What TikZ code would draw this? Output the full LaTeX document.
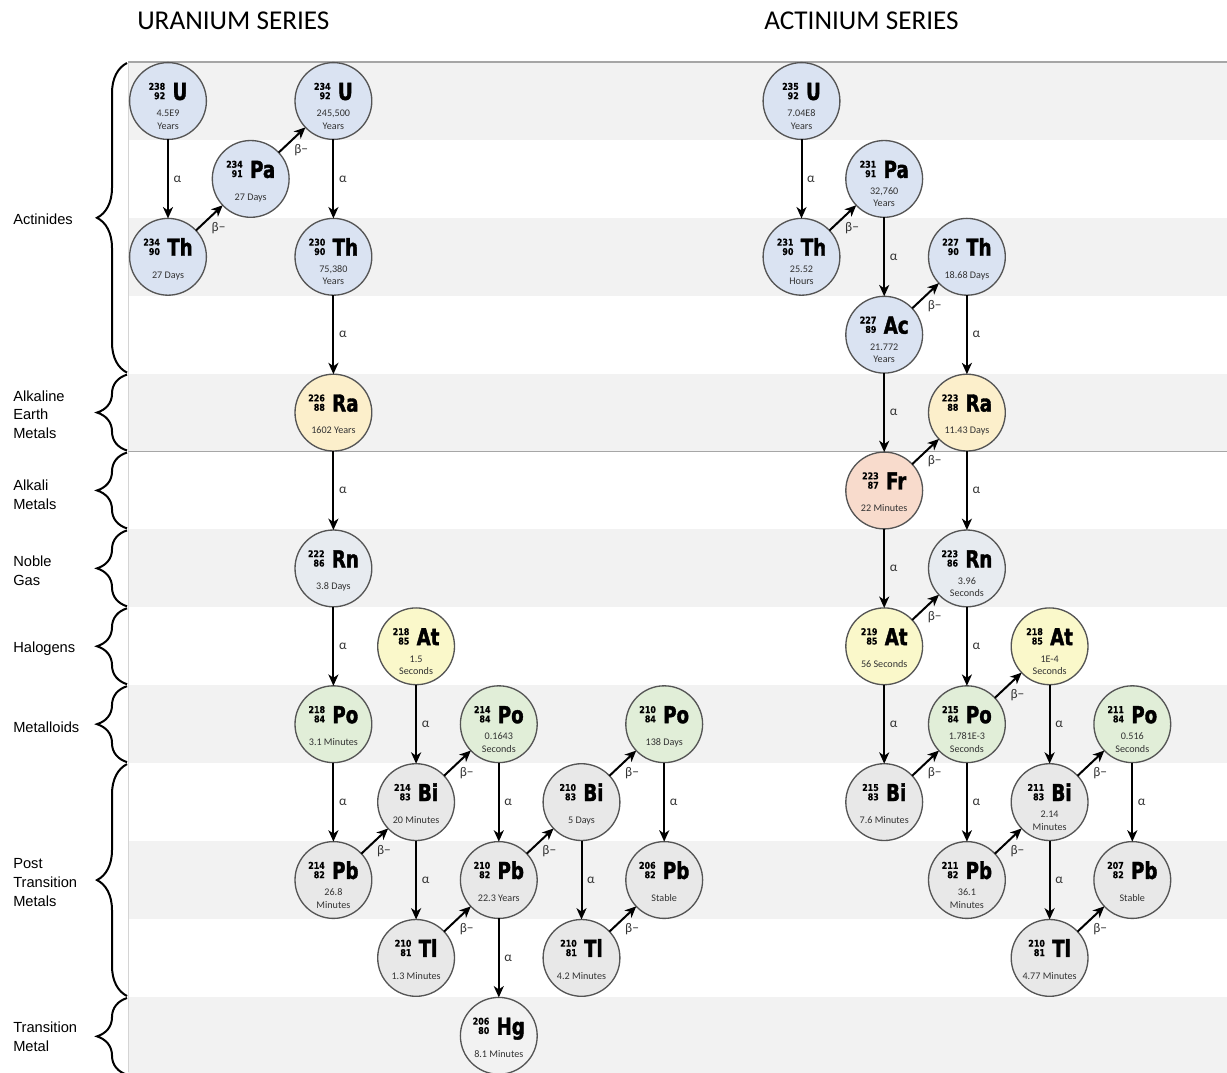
\documentclass[tikz,border=0pt]{standalone}
\usepackage{fontspec}
\setmainfont{Carlito}
\newfontfamily\grpfont{Liberation Sans}
\newfontfamily\symfont{DejaVu Sans}[FakeStretch=0.78, BoldFeatures={FakeBold=1.6}]
\newfontfamily\numfont{DejaVu Sans}[FakeStretch=0.85, BoldFeatures={FakeBold=0.6}]
\usetikzlibrary{arrows.meta,decorations.pathreplacing}

\definecolor{bandgray}{HTML}{F2F2F2}
\definecolor{sepgray}{HTML}{A6A6A6}
\definecolor{edgegray}{HTML}{D4D4D4}
\definecolor{nucedge}{HTML}{555555}
\definecolor{actin}{HTML}{DAE3F2}
\definecolor{alkearth}{HTML}{FCEFCB}
\definecolor{alkali}{HTML}{F8DBCC}
\definecolor{noble}{HTML}{E7EBF0}
\definecolor{halogen}{HTML}{FAF8CA}
\definecolor{metalloid}{HTML}{E1EED8}
\definecolor{posttrans}{HTML}{E8E8E8}
\definecolor{transmet}{HTML}{F2F2F2}
\definecolor{hltext}{HTML}{333333}

% mass number over atomic number, right aligned
\newcommand\nucnum[2]{\raisebox{0.6pt}{\numfont\bfseries\fontsize{7}{7}\selectfont\vbox{\halign{\hfil##\cr#1\cr#2\cr}}}}
% numbers + element symbol, centred on the node centre
\newcommand\nuchead[3]{\makebox[0pt]{\raisebox{0.8pt}[0pt][0pt]{\nucnum{#1}{#2}\hspace{5.5pt}{\symfont\bfseries\fontsize{17.5}{17.5}\selectfont#3}}}}
\newcommand\hlline[2]{\makebox[0pt]{\raisebox{#1}[0pt][0pt]{\color{hltext}\fontsize{7.6}{9}\selectfont#2}}}
% one-line and two-line half-life variants
\newcommand\nucA[4]{\nuchead{#1}{#2}{#3}\hlline{-16pt}{#4}}
\newcommand\nucB[5]{\nuchead{#1}{#2}{#3}\hlline{-11.8pt}{#4}\hlline{-21pt}{#5}}

\tikzset{
  nuc/.style={circle, draw=nucedge, line width=1pt, fill=#1, minimum size=57.6pt, inner sep=0pt, outer sep=0pt},
  decay/.style={line width=1.5pt, -{Stealth[length=8.5pt,width=7.5pt,inset=2.5pt]}},
  alab/.style={anchor=west, inner sep=0pt, xshift=3.5pt, text=hltext, font=\fontsize{10}{11}\selectfont},
  blab/.style={anchor=north west, inner sep=0pt, xshift=1pt, yshift=-2.5pt, text=hltext, font=\fontsize{10}{11}\selectfont},
  brc/.style={line width=1.5pt, decorate, decoration={brace, amplitude=22.5pt}},
  grp/.style={anchor=west, align=left, inner sep=0pt, font=\grpfont\fontsize{11}{13.9}\selectfont},
  ttl/.style={anchor=west, inner sep=0pt, font=\fontsize{20.4}{24}\selectfont},
}

\begin{document}
\begin{tikzpicture}[x=0.75pt, y=-0.75pt]
\useasboundingbox (0,0) rectangle (1227,1072);
\fill[white] (0,0) rectangle (1227,1072);

% alternating row bands
\foreach \r in {0,2,4,6,8,10,12}
  \fill[bandgray] (128,{62+77.9*\r}) rectangle (1227,{62+77.9*(\r+1)});
\draw[edgegray, line width=0.75pt] (128,62) -- (128,1072);
\draw[sepgray, line width=1.2pt] (128,62) -- (1227,62);
\draw[sepgray, line width=1.2pt] (128,451.5) -- (1227,451.5);

% titles
\node[ttl] (ttlU) at (137,21) {URANIUM SERIES};
\node[ttl] (ttlA) at (764,21) {ACTINIUM SERIES};

% group braces and labels
\draw[brc] (127,372.6) -- (127,63);
\draw[brc] (127,450.5) -- (127,374.6);
\draw[brc] (127,528.4) -- (127,452.5);
\draw[brc] (127,606.3) -- (127,530.4);
\draw[brc] (127,684.2) -- (127,608.3);
\draw[brc] (127,762.1) -- (127,686.2);
\draw[brc] (127,996.0) -- (127,764.1);
\draw[brc] (127,1074.7) -- (127,998.0);

\node[grp] (gAct) at (13,219.5) {Actinides};
\node[grp] (gAE) at (13,414.5) {Alkaline\\Earth\\Metals};
\node[grp] (gAlk) at (13,495) {Alkali\\Metals};
\node[grp] (gNob) at (13,571) {Noble\\Gas};
\node[grp] (gHal) at (13,648.5) {Halogens};
\node[grp] (gMet) at (13,727) {Metalloids};
\node[grp] (gPT) at (13,882.5) {Post\\Transition\\Metals};
\node[grp] (gTM) at (13,1036.5) {Transition\\Metal};

% ---------------- uranium series ----------------
\node[nuc=actin] (u238) at (168.0,101.0) {\nucB{238}{92}{U}{4.5E9}{Years}};
\node[nuc=actin] (th234) at (168.0,256.8) {\nucA{234}{90}{Th}{27 Days}};
\node[nuc=actin] (pa234) at (250.7,178.9) {\nucA{234}{91}{Pa}{27 Days}};
\node[nuc=actin] (u234) at (333.4,101.0) {\nucB{234}{92}{U}{245,500}{Years}};
\node[nuc=actin] (th230) at (333.4,256.8) {\nucB{230}{90}{Th}{75,380}{Years}};
\node[nuc=alkearth] (ra226) at (333.4,412.6) {\nucA{226}{88}{Ra}{1602 Years}};
\node[nuc=noble] (rn222) at (333.4,568.4) {\nucA{222}{86}{Rn}{3.8 Days}};
\node[nuc=metalloid] (po218) at (333.4,724.2) {\nucA{218}{84}{Po}{3.1 Minutes}};
\node[nuc=halogen] (at218) at (416.1,646.3) {\nucB{218}{85}{At}{1.5}{Seconds}};
\node[nuc=posttrans] (pb214) at (333.4,880.0) {\nucB{214}{82}{Pb}{26.8}{Minutes}};
\node[nuc=posttrans] (bi214) at (416.1,802.1) {\nucA{214}{83}{Bi}{20 Minutes}};
\node[nuc=posttrans] (tl210) at (416.1,957.9) {\nucA{210}{81}{Tl}{1.3 Minutes}};
\node[nuc=metalloid] (po214) at (498.8,724.2) {\nucB{214}{84}{Po}{0.1643}{Seconds}};
\node[nuc=posttrans] (pb210) at (498.8,880.0) {\nucA{210}{82}{Pb}{22.3 Years}};
\node[nuc=transmet] (hg206) at (498.8,1035.8) {\nucA{206}{80}{Hg}{8.1 Minutes}};
\node[nuc=posttrans] (bi210) at (581.5,802.1) {\nucA{210}{83}{Bi}{5 Days}};
\node[nuc=posttrans] (tl206) at (581.5,957.9) {\nucA{210}{81}{Tl}{4.2 Minutes}};
\node[nuc=metalloid] (po210) at (664.2,724.2) {\nucA{210}{84}{Po}{138 Days}};
\node[nuc=posttrans] (pb206) at (664.2,880.0) {\nucA{206}{82}{Pb}{Stable}};

\draw[decay] (u238) -- (th234) node[alab, midway] {α};
\draw[decay] (th234) -- (pa234) node[blab, midway] {β−};
\draw[decay] (pa234) -- (u234) node[blab, midway] {β−};
\draw[decay] (u234) -- (th230) node[alab, midway] {α};
\draw[decay] (th230) -- (ra226) node[alab, midway] {α};
\draw[decay] (ra226) -- (rn222) node[alab, midway] {α};
\draw[decay] (rn222) -- (po218) node[alab, midway] {α};
\draw[decay] (po218) -- (pb214) node[alab, midway] {α};
\draw[decay] (at218) -- (bi214) node[alab, midway] {α};
\draw[decay] (pb214) -- (bi214) node[blab, midway] {β−};
\draw[decay] (bi214) -- (po214) node[blab, midway] {β−};
\draw[decay] (bi214) -- (tl210) node[alab, midway] {α};
\draw[decay] (po214) -- (pb210) node[alab, midway] {α};
\draw[decay] (tl210) -- (pb210) node[blab, midway] {β−};
\draw[decay] (pb210) -- (bi210) node[blab, midway] {β−};
\draw[decay] (pb210) -- (hg206) node[alab, midway] {α};
\draw[decay] (bi210) -- (po210) node[blab, midway] {β−};
\draw[decay] (bi210) -- (tl206) node[alab, midway] {α};
\draw[decay] (po210) -- (pb206) node[alab, midway] {α};
\draw[decay] (tl206) -- (pb206) node[blab, midway] {β−};

% ---------------- actinium series ----------------
\node[nuc=actin] (u235) at (801.5,101.0) {\nucB{235}{92}{U}{7.04E8}{Years}};
\node[nuc=actin] (pa231) at (884.2,178.9) {\nucB{231}{91}{Pa}{32,760}{Years}};
\node[nuc=actin] (th231) at (801.5,256.8) {\nucB{231}{90}{Th}{25.52}{Hours}};
\node[nuc=actin] (th227) at (966.9,256.8) {\nucA{227}{90}{Th}{18.68 Days}};
\node[nuc=actin] (ac227) at (884.2,334.7) {\nucB{227}{89}{Ac}{21.772}{Years}};
\node[nuc=alkearth] (ra223) at (966.9,412.6) {\nucA{223}{88}{Ra}{11.43 Days}};
\node[nuc=alkali] (fr223) at (884.2,490.5) {\nucA{223}{87}{Fr}{22 Minutes}};
\node[nuc=noble] (rn219) at (966.9,568.4) {\nucB{223}{86}{Rn}{3.96}{Seconds}};
\node[nuc=halogen] (at219) at (884.2,646.3) {\nucA{219}{85}{At}{56 Seconds}};
\node[nuc=halogen] (at215) at (1049.6,646.3) {\nucB{218}{85}{At}{1E-4}{Seconds}};
\node[nuc=metalloid] (po215) at (966.9,724.2) {\nucB{215}{84}{Po}{1.781E-3}{Seconds}};
\node[nuc=metalloid] (po211) at (1132.3,724.2) {\nucB{211}{84}{Po}{0.516}{Seconds}};
\node[nuc=posttrans] (bi215) at (884.2,802.1) {\nucA{215}{83}{Bi}{7.6 Minutes}};
\node[nuc=posttrans] (bi211) at (1049.6,802.1) {\nucB{211}{83}{Bi}{2.14}{Minutes}};
\node[nuc=posttrans] (pb211) at (966.9,880.0) {\nucB{211}{82}{Pb}{36.1}{Minutes}};
\node[nuc=posttrans] (pb207) at (1132.3,880.0) {\nucA{207}{82}{Pb}{Stable}};
\node[nuc=posttrans] (tl207) at (1049.6,957.9) {\nucA{210}{81}{Tl}{4.77 Minutes}};

\draw[decay] (u235) -- (th231) node[alab, midway] {α};
\draw[decay] (th231) -- (pa231) node[blab, midway] {β−};
\draw[decay] (pa231) -- (ac227) node[alab, midway] {α};
\draw[decay] (ac227) -- (th227) node[blab, midway] {β−};
\draw[decay] (ac227) -- (fr223) node[alab, midway] {α};
\draw[decay] (th227) -- (ra223) node[alab, midway] {α};
\draw[decay] (fr223) -- (ra223) node[blab, midway] {β−};
\draw[decay] (ra223) -- (rn219) node[alab, midway] {α};
\draw[decay] (fr223) -- (at219) node[alab, midway] {α};
\draw[decay] (at219) -- (rn219) node[blab, midway] {β−};
\draw[decay] (rn219) -- (po215) node[alab, midway] {α};
\draw[decay] (at219) -- (bi215) node[alab, midway] {α};
\draw[decay] (bi215) -- (po215) node[blab, midway] {β−};
\draw[decay] (po215) -- (at215) node[blab, midway] {β−};
\draw[decay] (po215) -- (pb211) node[alab, midway] {α};
\draw[decay] (at215) -- (bi211) node[alab, midway] {α};
\draw[decay] (pb211) -- (bi211) node[blab, midway] {β−};
\draw[decay] (bi211) -- (po211) node[blab, midway] {β−};
\draw[decay] (bi211) -- (tl207) node[alab, midway] {α};
\draw[decay] (po211) -- (pb207) node[alab, midway] {α};
\draw[decay] (tl207) -- (pb207) node[blab, midway] {β−};
\end{tikzpicture}
\end{document}
